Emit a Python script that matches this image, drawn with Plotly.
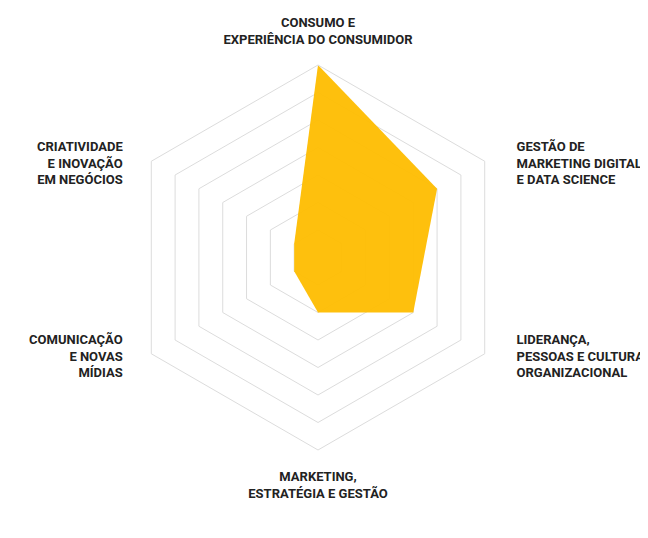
import plotly.graph_objects as go

categories = [
    ["CONSUMO E", "EXPERIÊNCIA DO CONSUMIDOR"],
    ["GESTÃO DE", "MARKETING DIGITAL", "E DATA SCIENCE"],
    ["LIDERANÇA,", "PESSOAS E CULTURA", "ORGANIZACIONAL"],
    ["MARKETING,", "ESTRATÉGIA E GESTÃO"],
    ["COMUNICAÇÃO", "E NOVAS", "MÍDIAS"],
    ["CRIATIVIDADE", "E INOVAÇÃO", "EM NEGÓCIOS"],
]
scores = [7, 5, 4, 2, 1, 1]

YELLOW = "rgba(254, 189, 0, 0.95)"
GRID = "#dcdcdc"
NB = "\u00a0"


def label(lines, side="", vert=""):
    # plotly pushes multi-line side labels away from the vertex; pad with
    # blank lines / spaces so they sit centred next to it like the original
    if side == "right":
        lines = [NB * 5 + s for s in lines]
    elif side == "left":
        lines = [s + NB * 4 for s in lines]
    if vert == "upper":
        lines = [NB] * 5 + lines
    elif vert == "lower":
        lines = lines + [NB] * 5
    return "<br>".join(lines)


theta = [
    label(categories[0]),
    label(categories[1], "right", "upper"),
    label(categories[2], "right", "lower"),
    label(categories[3]),
    label(categories[4], "left", "lower"),
    label(categories[5], "left", "upper"),
]

fig = go.Figure(go.Scatterpolar(
    r=scores + scores[:1],
    theta=theta + theta[:1],
    mode="lines",
    fill="toself",
    fillcolor=YELLOW,
    line=dict(width=0, color=YELLOW),
    hoverinfo="skip",
))

# page body has an 8px margin, so the domain is shifted to compensate
fig.update_layout(
    width=648,
    height=538,
    paper_bgcolor="#FFFFFF",
    plot_bgcolor="#FFFFFF",
    showlegend=False,
    margin=dict(l=0, r=0, t=0, b=0),
    font=dict(family="Roboto, sans-serif", size=13, color="#222222"),
    polar=dict(
        domain=dict(x=[117.5 / 648, 502.5 / 648], y=[96 / 538, 481 / 538]),
        bgcolor="#FFFFFF",
        gridshape="linear",
        radialaxis=dict(
            range=[0, 7],
            dtick=1,
            showticklabels=False,
            ticks="",
            showline=False,
            gridcolor=GRID,
            gridwidth=1,
        ),
        angularaxis=dict(
            direction="clockwise",
            rotation=90,
            showgrid=False,
            linecolor=GRID,
            linewidth=1,
            ticks="outside",
            ticklen=15,
            tickcolor="rgba(0,0,0,0)",
            tickfont=dict(family="Roboto, sans-serif", size=13, weight="bold", color="#222222"),
        ),
    ),
)

fig.write_html("out.html")
